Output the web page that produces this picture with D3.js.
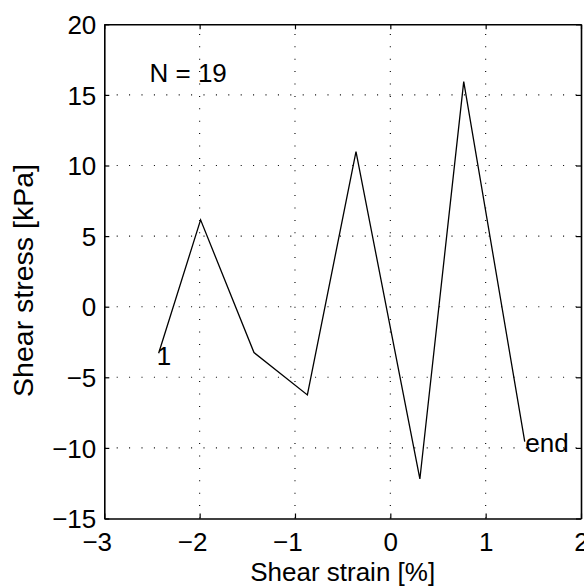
<!DOCTYPE html>
<html>
<head>
<meta charset="utf-8">
<script src="https://cdn.jsdelivr.net/npm/d3@7"></script>
<style>
  html, body { margin: 0; padding: 0; background: #fff; }
  svg { display: block; }
  text { font-family: "Liberation Sans", Arial, Helvetica, sans-serif; fill: #000; }
</style>
</head>
<body>
<script>
// ---- data ----
const strain = [-2.43, -1.99, -1.43, -0.87, -0.36, 0.31, 0.77, 1.41];
const stress = [-3.3, 6.15, -3.25, -6.25, 10.98, -12.2, 15.94, -9.56];
const xTicks = [-3, -2, -1, 0, 1, 2];
const yTicks = [-15, -10, -5, 0, 5, 10, 15, 20];
const annotation = "N = 19";
const startLabel = "1";
const endLabel = "end";
const xTitle = "Shear strain [%]";
const yTitle = "Shear stress [kPa]";

const W = 584, H = 587;
const pL = 104.3, pR = 581, pT = 24.3, pB = 518.5;
const fs = 26;

const svg = d3.select("body").append("svg").attr("width", W).attr("height", H);

const x = d3.scaleLinear().domain([-3, 2]).range([pL, pR]);
const y = d3.scaleLinear().domain([-15, 20]).range([pB, pT]);

const fmt = d => (d < 0 ? "\u2212" + Math.abs(d) : String(d));

// grid (dotted)
const grid = svg.append("g").attr("stroke", "#000").attr("stroke-width", 1.1)
  .attr("stroke-dasharray", "1,11.4").attr("fill", "none");
xTicks.filter(t => t > -3 && t < 2).forEach(t => {
  grid.append("line").attr("x1", x(t)).attr("x2", x(t)).attr("y1", pB).attr("y2", pT);
});
yTicks.filter(t => t > -15 && t < 20).forEach(t => {
  grid.append("line").attr("x1", pL).attr("x2", pR).attr("y1", y(t)).attr("y2", y(t));
});

// axes (D3 axes with inward ticks), all four sides
const tickLen = 5;
const axB = svg.append("g").attr("transform", `translate(0,${pB})`)
  .call(d3.axisBottom(x).tickValues(xTicks).tickSizeInner(-tickLen).tickSizeOuter(0).tickFormat(fmt));
const axT = svg.append("g").attr("transform", `translate(0,${pT})`)
  .call(d3.axisTop(x).tickValues(xTicks).tickSizeInner(-tickLen).tickSizeOuter(0).tickFormat(""));
const axL = svg.append("g").attr("transform", `translate(${pL},0)`)
  .call(d3.axisLeft(y).tickValues(yTicks).tickSizeInner(-tickLen).tickSizeOuter(0).tickFormat(fmt));
const axR = svg.append("g").attr("transform", `translate(${pR},0)`)
  .call(d3.axisRight(y).tickValues(yTicks).tickSizeInner(-tickLen).tickSizeOuter(0).tickFormat(""));

[axB, axT, axL, axR].forEach(a => {
  a.select(".domain").attr("stroke", "#000").attr("stroke-width", 1.6);
  a.selectAll(".tick line").attr("stroke", "#000").attr("stroke-width", 1.2);
  a.selectAll("text").attr("font-family", "Liberation Sans, Arial, sans-serif")
    .attr("font-size", fs).attr("fill", "#000");
});
// x tick labels: digit centred under tick, minus hangs to the left
axB.selectAll(".tick text").attr("text-anchor", "end")
  .attr("x", 0.278 * fs).attr("dy", null).attr("y", 32);
axL.selectAll(".tick text").attr("x", -8).attr("dy", "0.35em");

// data line
const line = d3.line().x((d, i) => x(strain[i])).y((d, i) => y(stress[i]));
svg.append("path").datum(stress).attr("d", line)
  .attr("fill", "none").attr("stroke", "#000").attr("stroke-width", 1.3)
  .attr("stroke-linejoin", "miter");

// labels
svg.append("text").attr("x", x(strain[0]) - 2).attr("y", y(stress[0]) + 11.5)
  .attr("font-size", fs).text(startLabel);
const n = strain.length - 1;
svg.append("text").attr("x", x(strain[n]) + 0.5).attr("y", y(stress[n]) + 10)
  .attr("font-size", fs).text(endLabel);
svg.append("text").attr("x", 149.5).attr("y", 82.3)
  .attr("font-size", fs).text(annotation);

// axis titles
svg.append("text").attr("x", (pL + pR) / 2).attr("y", 581)
  .attr("text-anchor", "middle").attr("font-size", fs).text(xTitle);
svg.append("text").attr("transform", `translate(33,280.5) rotate(-90)`)
  .attr("text-anchor", "middle").attr("font-size", 28.5).text(yTitle);
</script>
</body>
</html>
